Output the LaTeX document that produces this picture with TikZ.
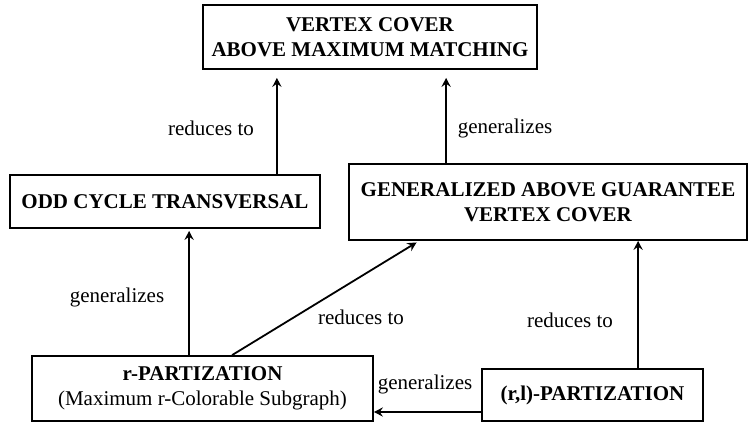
\documentclass[tikz,border=0pt]{standalone}
\usepackage{fontspec}
\setmainfont{Liberation Serif}
\usetikzlibrary{arrows.meta,calc}

\tikzset{
  box/.style={draw, line width=0.9pt, rectangle, align=center, inner sep=2pt,
    font=\fontsize{10.5}{12.5}\selectfont\bfseries},
  lbl/.style={font=\fontsize{10.5}{12.5}\selectfont, inner sep=0pt},
  arr/.style={->, line width=0.9pt, >={Stealth[length=4.5pt,width=4.6pt,inset=1.6pt]}}
}

\begin{document}
\begin{tikzpicture}[x=0.5pt, y=-0.5pt]
    \useasboundingbox (0,0) rectangle (748,423);

    % the problems
    \node[box, minimum width=167pt, minimum height=32pt] (vcmm) at (370,37)
        {VERTEX COVER\\ABOVE MAXIMUM MATCHING};
    \node[box, minimum width=155pt, minimum height=26.5pt] (oct) at (165,201.5)
        {ODD CYCLE TRANSVERSAL};
    \node[box, minimum width=199pt, minimum height=38pt] (agvc) at (548,202)
        {GENERALIZED ABOVE GUARANTEE\\VERTEX COVER};
    \node[box, minimum width=170.5pt, minimum height=32.5pt] (rpart) at (202.5,388.5)
        {r-PARTIZATION\\\mdseries(Maximum r-Colorable Subgraph)};
    \node[box, minimum width=110.5pt, minimum height=26pt] (rlpart) at (592.5,395)
        {(r,l)-PARTIZATION};

    % where the arrows leave the boxes
    \coordinate (octup) at ($(oct.north east)+(-44,0)$);
    \coordinate (agvcup) at ($(agvc.north west)+(98,0)$);
    \coordinate (rpartup) at ($(rpart.north west)+(158,0)$);
    \coordinate (rpartdiag) at ($(rpart.north west)+(201,0)$);
    \coordinate (agvcdiag) at ($(agvc.south west)+(71,0)$);
    \coordinate (rlup) at ($(rlpart.north west)+(157,0)$);
    \coordinate (rlleft) at ($(rlpart.west)+(0,17)$);

    % reductions and generalizations
    \draw[arr, shorten >=4pt] (octup) -- (octup |- vcmm.south);
    \draw[arr, shorten >=4pt] (agvcup) -- (agvcup |- vcmm.south);
    \draw[arr, shorten >=1pt] (rpartup) -- (rpartup |- oct.south);
    \draw[arr, shorten >=1.5pt] (rpartdiag) -- (agvcdiag);
    \draw[arr] (rlup) -- (rlup |- agvc.south);
    \draw[arr] (rlleft) -- (rlleft -| rpart.east);

    % the labels
    \node[lbl] (l1) at (211,128) {reduces to};
    \node[lbl] (l2) at (505,128) {generalizes};
    \node[lbl] (l3) at (117,297) {generalizes};
    \node[lbl] (l4) at (361,317) {reduces to};
    \node[lbl] (l5) at (570,320) {reduces to};
    \node[lbl] (l6) at (425,384) {generalizes};
\end{tikzpicture}
\end{document}
